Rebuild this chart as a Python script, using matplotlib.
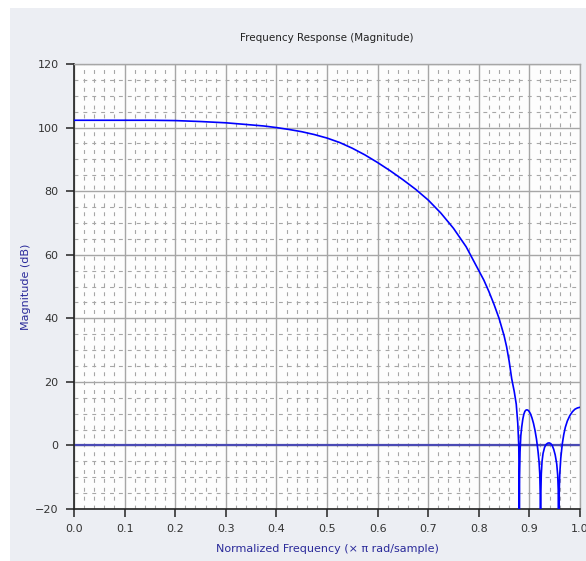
import numpy as np
import matplotlib
matplotlib.use("Agg")
import matplotlib.pyplot as plt
from matplotlib.patches import Rectangle
from matplotlib.ticker import MultipleLocator

# Magnitude response samples (normalized frequency, dB)
freq = [0.00, 0.05, 0.10, 0.15, 0.20, 0.25, 0.30, 0.338, 0.375, 0.40,
        0.425, 0.45, 0.475, 0.50, 0.525, 0.55, 0.575, 0.60, 0.625, 0.65,
        0.675, 0.70, 0.725, 0.75, 0.775, 0.80, 0.81, 0.82, 0.83, 0.84,
        0.85, 0.855, 0.86, 0.865, 0.870, 0.874, 0.877, 0.879, 0.8795,
        0.880,
        0.8805, 0.8815, 0.883, 0.885, 0.887, 0.889, 0.891, 0.893, 0.895,
        0.897, 0.899, 0.902, 0.905, 0.908, 0.911, 0.914, 0.917, 0.919,
        0.9205, 0.9215, 0.922,
        0.9225, 0.9235, 0.925, 0.927, 0.930, 0.933, 0.936, 0.939, 0.942,
        0.945, 0.948, 0.951, 0.954, 0.956, 0.957, 0.958,
        0.959, 0.960, 0.962, 0.965, 0.968, 0.971, 0.975, 0.980, 0.985,
        0.990, 0.995, 1.000]
mag_db = [102.3, 102.3, 102.3, 102.3, 102.2, 101.9, 101.5, 101.0, 100.5, 100.0,
          99.4, 98.7, 97.8, 96.7, 95.3, 93.5, 91.4, 89.0, 86.4, 83.6,
          80.6, 77.2, 73.1, 68.3, 62.5, 55.0, 52.0, 48.4, 44.4, 40.0,
          34.5, 31.0, 26.5, 21.0, 17.0, 13.0, 7.0, 0.0, -8.0,
          -60.0,
          -10.0, -2.0, 3.0, 6.0, 8.3, 9.8, 10.7, 11.1, 11.2,
          11.1, 10.8, 10.0, 8.7, 7.0, 4.8, 2.0, -1.8, -5.0,
          -9.0, -16.0, -60.0,
          -16.0, -9.0, -5.0, -2.5, -0.6, 0.3, 0.7, 0.8, 0.6,
          0.0, -1.2, -3.0, -5.8, -9.5, -14.0, -60.0,
          -14.0, -9.0, -4.0, 0.5, 3.5, 5.7, 7.7, 9.4, 10.6,
          11.4, 11.8, 12.0]

x_ticks = [0.0, 0.1, 0.2, 0.3, 0.4, 0.5, 0.6, 0.7, 0.8, 0.9, 1.0]
y_ticks = [-20, 0, 20, 40, 60, 80, 100, 120]

fig = plt.figure(figsize=(5.86, 5.61), dpi=100)
fig.patch.set_facecolor("white")
fig.add_artist(Rectangle((10 / 586, 0), 1 - 10 / 586, 1 - 8 / 561,
                         transform=fig.transFigure, facecolor="#eceef3",
                         edgecolor="none", zorder=-10))

ax = fig.add_axes([74 / 586, 52 / 561, 506 / 586, 445 / 561])
ax.set_facecolor("#fdfdfd")

ax.set_xlim(0, 1.0)
ax.set_ylim(-20, 120)
ax.set_xticks(x_ticks)
ax.set_yticks(y_ticks)
ax.set_xticklabels([f"{v:.1f}" for v in x_ticks])
ax.xaxis.set_minor_locator(MultipleLocator(0.02))
ax.yaxis.set_minor_locator(MultipleLocator(5))

ax.grid(which="major", color="#a6a6a6", linewidth=1.0, linestyle="-", zorder=0)
ax.grid(which="minor", color="#a6a6a6", linewidth=0.8,
        linestyle=(0, (3.5, 4.5)), zorder=0)
ax.set_axisbelow(True)

ax.axhline(0, color="#4a4ab4", linewidth=1.6, zorder=2)
ax.plot(freq, mag_db, color="#0000ff", linewidth=1.2, zorder=3)

for side in ("top", "right"):
    ax.spines[side].set_color("#a6a6a6")
    ax.spines[side].set_linewidth(1.0)
for side in ("left", "bottom"):
    ax.spines[side].set_color("#222222")
    ax.spines[side].set_linewidth(1.2)

ax.tick_params(which="major", direction="out", length=6, width=1.1,
               color="#222222", labelsize=8, labelcolor="#333333", pad=5)
ax.tick_params(which="minor", length=0)

ax.set_title("Frequency Response (Magnitude)", fontsize=7.5, color="#222222",
             pad=16.5)
ax.set_xlabel("Normalized Frequency (× π rad/sample)", fontsize=8,
              color="#2a2a9a", labelpad=7)
ax.set_ylabel("Magnitude (dB)", fontsize=8, color="#2a2a9a", labelpad=3)

fig.savefig("out.png", dpi=100, facecolor=fig.get_facecolor())
